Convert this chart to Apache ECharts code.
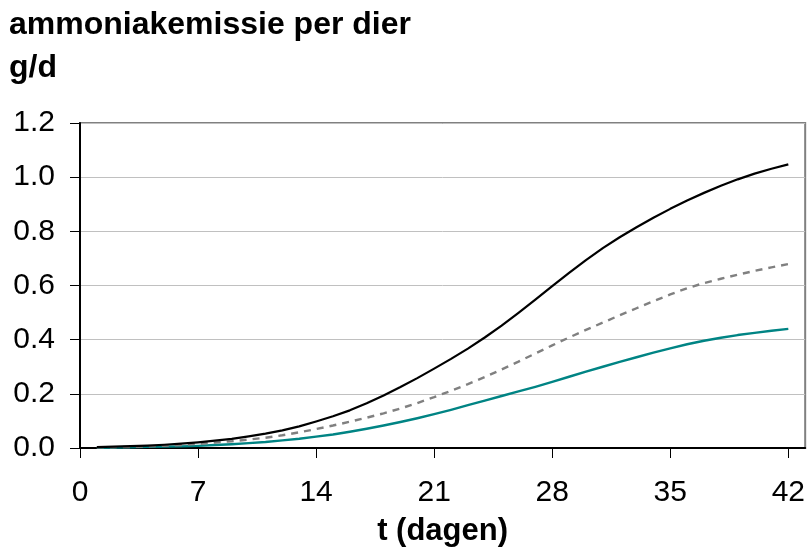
<!DOCTYPE html>
<html>
<head>
<meta charset="utf-8">
<script src="https://cdn.jsdelivr.net/npm/echarts@6/dist/echarts.min.js"></script>
<style>
html,body{margin:0;padding:0;background:#fff;}
#c{width:808px;height:553px;}
</style>
</head>
<body>
<div id="c"></div>
<script>
const days = [1,2,3,4,5,6,7,8,9,10,11,12,13,14,15,16,17,18,19,20,21,22,23,24,25,26,27,28,29,30,31,32,33,34,35,36,37,38,39,40,41,42];
const blackSeries = [0.003,0.005,0.007,0.009,0.012,0.016,0.021,0.027,0.034,0.043,0.053,0.065,0.08,0.098,0.117,0.139,0.165,0.194,0.225,0.258,0.293,0.329,0.367,0.408,0.452,0.499,0.548,0.598,0.647,0.694,0.738,0.778,0.815,0.85,0.883,0.914,0.942,0.968,0.992,1.013,1.031,1.047];
const dashedSeries = [0.002,0.003,0.004,0.006,0.008,0.011,0.015,0.02,0.025,0.031,0.038,0.047,0.058,0.07,0.083,0.097,0.112,0.128,0.146,0.166,0.188,0.211,0.236,0.262,0.29,0.319,0.349,0.379,0.408,0.436,0.463,0.49,0.516,0.542,0.567,0.59,0.609,0.625,0.64,0.654,0.667,0.679];
const tealSeries = [0.001,0.002,0.003,0.004,0.005,0.006,0.008,0.011,0.014,0.018,0.022,0.028,0.034,0.042,0.05,0.06,0.071,0.083,0.096,0.11,0.125,0.141,0.158,0.175,0.192,0.209,0.226,0.244,0.263,0.282,0.3,0.318,0.335,0.352,0.368,0.383,0.396,0.407,0.417,0.425,0.433,0.44];
const xTicks = [0,7,14,21,28,35,42];
const titleText = 'ammoniakemissie per dier\ng/d';
const xName = 't (dagen)';

const FONT = '"Liberation Sans", Arial, sans-serif';
const pair = (ys) => days.map((d, i) => [d, ys[i]]);

const chart = echarts.init(document.getElementById('c'), null, {renderer: 'canvas'});
chart.setOption({
  animation: false,
  backgroundColor: '#ffffff',
  title: {
    text: titleText,
    left: 9,
    top: 4,
    padding: 0,
    textStyle: {fontFamily: FONT, fontSize: 32, fontWeight: 'bold', color: '#000', lineHeight: 43}
  },
  grid: {left: 80, right: 2, top: 123, bottom: 105, show: true, borderColor: '#808080', borderWidth: 2, containLabel: false},
  xAxis: {
    type: 'value', min: 0, max: 43, interval: 7,
    name: xName, nameLocation: 'middle', nameGap: 68,
    nameTextStyle: {fontFamily: FONT, fontSize: 31, fontWeight: 'bold', color: '#000'},
    axisLine: {show: true, onZero: false, lineStyle: {color: '#000', width: 2}},
    axisTick: {show: true, inside: false, length: 10, customValues: xTicks, lineStyle: {color: '#000', width: 1}},
    axisLabel: {customValues: xTicks, margin: 30, fontFamily: FONT, fontSize: 30, color: '#000'},
    splitLine: {show: false}
  },
  yAxis: {
    type: 'value', min: 0, max: 1.2, interval: 0.2,
    axisLine: {show: true, onZero: false, lineStyle: {color: '#000', width: 2}},
    axisTick: {show: true, inside: false, length: 10, lineStyle: {color: '#000', width: 1}},
    axisLabel: {margin: 25, fontFamily: FONT, fontSize: 30, color: '#000', formatter: v => v.toFixed(1)},
    splitLine: {show: true, lineStyle: {color: '#c0c0c0', width: 1}}
  },
  series: [
    {type: 'line', data: pair(blackSeries), showSymbol: false, smooth: false, lineStyle: {color: '#000000', width: 2.2, join: 'round'}, z: 5},
    {type: 'line', data: pair(dashedSeries), showSymbol: false, smooth: false, lineStyle: {color: '#808080', width: 2.4, type: [7, 6]}, z: 4},
    {type: 'line', data: pair(tealSeries), showSymbol: false, smooth: false, lineStyle: {color: '#008484', width: 2.4, join: 'round'}, z: 3}
  ]
});
</script>
</body>
</html>
